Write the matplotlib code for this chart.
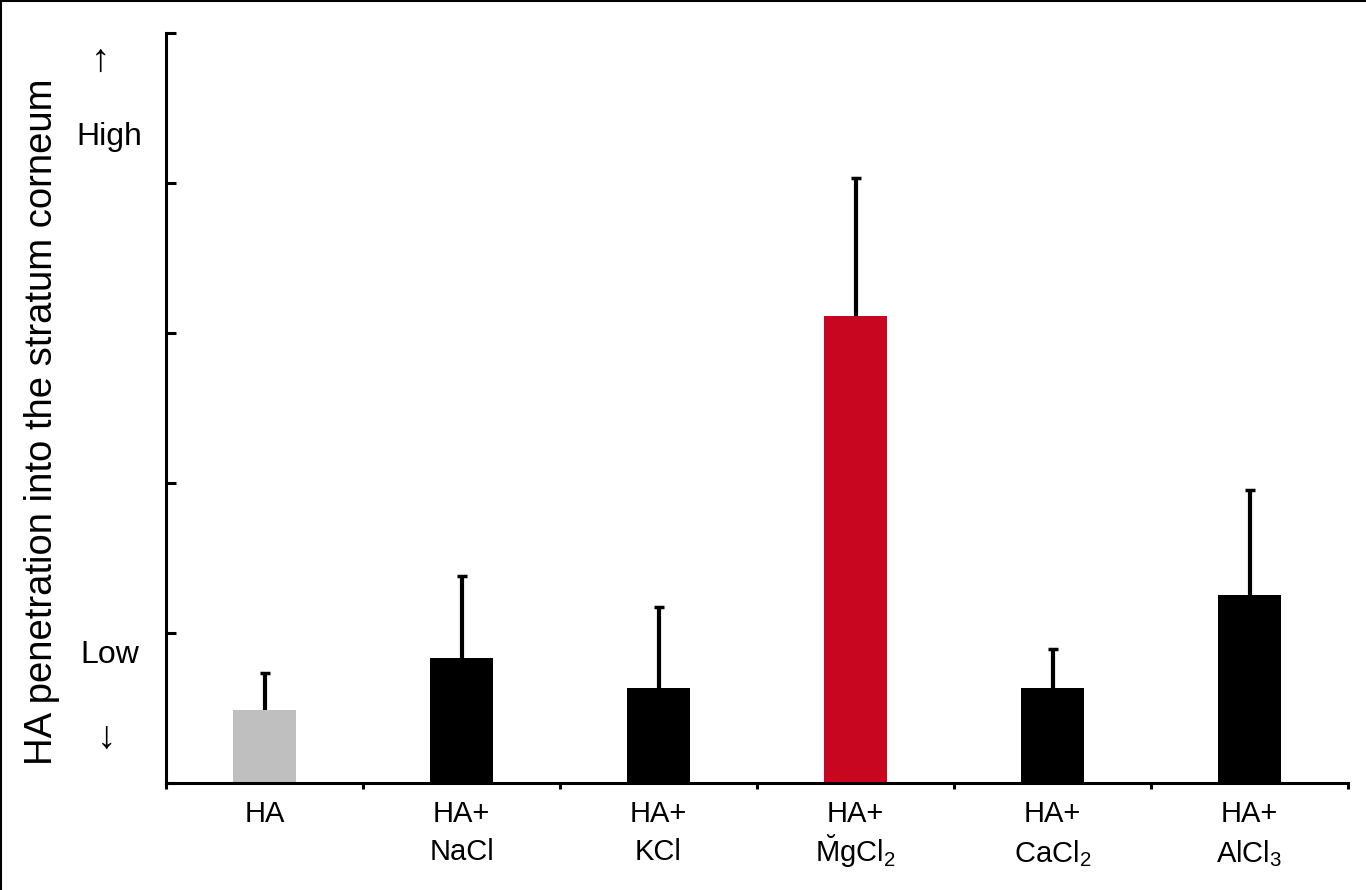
import matplotlib
matplotlib.use("Agg")
import matplotlib.pyplot as plt
from matplotlib.lines import Line2D

plt.rcParams['font.family'] = ['Liberation Sans', 'DejaVu Sans']
plt.rcParams['mathtext.fontset'] = 'custom'
plt.rcParams['mathtext.rm'] = 'Liberation Sans'
plt.rcParams['mathtext.default'] = 'regular'

categories = ["HA", "HA+\nNaCl", "HA+\nKCl", "HA+\n$\\breve{M}$gCl$_2$", "HA+\nCaCl$_2$", "HA+\nAlCl$_3$"]
values = [0.487, 0.833, 0.633, 3.113, 0.633, 1.253]
errors = [0.247, 0.547, 0.540, 0.920, 0.260, 0.700]
colors = ["#BFBFBF", "#000000", "#000000", "#C8061F", "#000000", "#000000"]

fig = plt.figure(figsize=(13.66, 8.9), dpi=100)
ax = fig.add_axes([166/1366, 1-783/890, (1348-166)/1366, (783-33)/890])

x = list(range(len(categories)))
tops = [v + e for v, e in zip(values, errors)]
ax.bar(x, values, width=0.315, color=colors, zorder=2)
ax.vlines(x, values, tops, colors='black', linewidth=3, zorder=3)
ax.plot(x, tops, linestyle='none', marker='_', markersize=6.5,
        markeredgewidth=2.5, color='black', zorder=3)

ax.set_xlim(-0.5, 5.5)
ax.set_ylim(0, 5)
ax.set_yticks([0, 1, 2, 3, 4, 5])
ax.set_yticklabels([])
ax.tick_params(axis='y', direction='in', length=7.5, width=2.2)

ax.set_xticks(x)
labels = ax.set_xticklabels(categories, fontsize=21, linespacing=1.45)
labels[3].set_linespacing(1.15)
ax.tick_params(axis='x', which='major', length=0, pad=12)
ax.set_xticks([-0.5, 0.5, 1.5, 2.5, 3.5, 4.5, 5.5], minor=True)
ax.tick_params(axis='x', which='minor', direction='out', length=4, width=2.2)

for s in ['top', 'right']:
    ax.spines[s].set_visible(False)
for s in ['left', 'bottom']:
    ax.spines[s].set_linewidth(2.2)

fig.text(42/1366, 1-422/890, "HA penetration into the stratum corneum",
         rotation=90, fontsize=27.5, ha='center', va='center')
fig.text(101/1366, 1-61/890, "\u2191", fontsize=28, ha='center', va='center')
fig.text(109/1366, 1-137/890, "High", fontsize=23, ha='center', va='center')
fig.text(110/1366, 1-655/890, "Low", fontsize=23, ha='center', va='center')
fig.text(107/1366, 1-738/890, "\u2193", fontsize=28, ha='center', va='center')

fig.add_artist(Line2D([0.0007, 0.0007], [0, 1], transform=fig.transFigure, color='black', lw=1.5))
fig.add_artist(Line2D([0, 1], [0.9993, 0.9993], transform=fig.transFigure, color='black', lw=1.5))

fig.savefig("out.png", dpi=100)
